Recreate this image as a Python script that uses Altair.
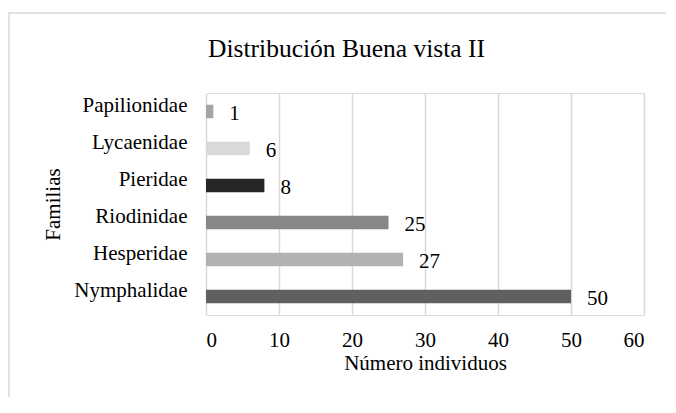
import altair as alt
import pandas as pd

titulo = "Distribución Buena vista II"
familias = ["Papilionidae", "Lycaenidae", "Pieridae", "Riodinidae", "Hesperidae", "Nymphalidae"]
individuos = [1, 6, 8, 25, 27, 50]
colores = ["#a5a5a5", "#d9d9d9", "#262626", "#878787", "#b2b2b2", "#606060"]

df = pd.DataFrame({"familia": familias, "n": individuos, "color": colores})

FONT = "Liberation Serif"

y_enc = alt.Y(
    "familia:N",
    sort=familias,
    scale=alt.Scale(paddingInner=0.635, paddingOuter=0.3175),
    axis=alt.Axis(
        title="Familias",
        titleFont=FONT, titleFontSize=21, titleFontWeight="normal", titleColor="black",
        titleX=-153, titleY=111, titleAngle=270, titleBaseline="middle", titleAlign="center",
        labelFont=FONT, labelFontSize=21, labelColor="black",
        labelPadding=19, labelOffset=-6,
        ticks=False, domain=False, grid=False,
    ),
)

x_enc = alt.X(
    "n:Q",
    scale=alt.Scale(domain=[0, 60], nice=False),
    axis=alt.Axis(
        values=[0, 10, 20, 30, 40, 50, 60],
        title="Número individuos",
        titleFont=FONT, titleFontSize=21, titleFontWeight="normal", titleColor="black",
        titleY=54, titleBaseline="alphabetic",
        labelFont=FONT, labelFontSize=21, labelColor="black", labelPadding=14,
        ticks=False, domain=False, grid=True, gridColor="#d9d9d9", gridWidth=1.5,
    ),
)

border = alt.Chart(pd.DataFrame({"a": [0]})).mark_rect(
    fill=None, stroke="#d9d9d9", strokeWidth=1.5
).encode(
    x=alt.value(-197), x2=alt.value(520), y=alt.value(-80), y2=alt.value(420)
)

title_mark = alt.Chart(pd.DataFrame({"t": [titulo]})).mark_text(
    align="center", baseline="alphabetic", font=FONT, fontSize=25.5, color="black"
).encode(
    x=alt.value(140.5), y=alt.value(-36), text="t:N"
)

bars = alt.Chart(df).mark_bar().encode(
    x=x_enc,
    y=y_enc,
    color=alt.Color("color:N", scale=None, legend=None),
)

labels = alt.Chart(df).mark_text(
    align="left", baseline="middle", dx=16, dy=2, font=FONT, fontSize=21, color="black"
).encode(
    x=alt.X("n:Q"),
    y=alt.Y("familia:N", sort=familias),
    text="n:Q",
)

chart = alt.layer(border, title_mark, bars, labels).properties(
    width=438,
    height=222,
    autosize=alt.AutoSizeParams(type="none"),
    padding={"left": 198, "top": 85, "right": 22, "bottom": 82},
).configure_view(stroke=None).configure(background="white")

chart.save("out.html", embed_options={"renderer": "svg", "actions": False})
